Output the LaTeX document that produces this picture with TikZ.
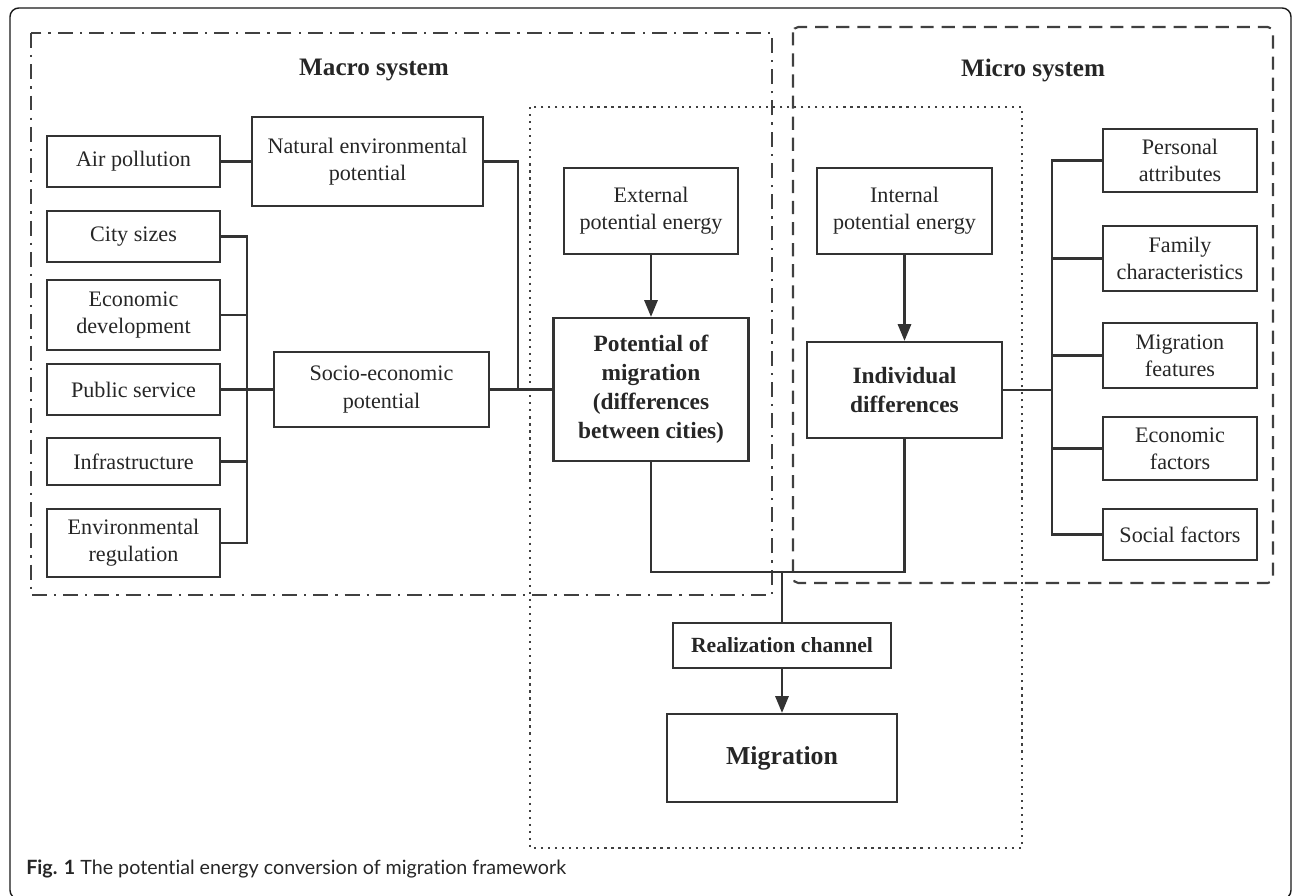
\documentclass[tikz,border=0pt]{standalone}
\usepackage{fontspec}
\setmainfont{Liberation Serif}
\newfontfamily\capfont[Ligatures={NoCommon}]{Lato}
\usetikzlibrary{arrows.meta}

\tikzset{
  box/.style={draw=black!80, line width=1.3pt, inner sep=1pt, align=center,
    text=black!85, font=\fontsize{12.6}{15.4}\selectfont},
  keybox/.style={box, font=\bfseries\fontsize{13.3}{16.6}\selectfont},
  leftbox/.style={box, minimum width=3.46cm},
  rightbox/.style={box, minimum width=3.08cm},
  title/.style={text=black!85, font=\bfseries\fontsize{14.3}{17}\selectfont},
  link/.style={draw=black!80, line width=1.3pt},
  arr/.style={link, -{Triangle[length=9.5pt,width=7.5pt]}},
  macroline/.style={draw=black!75, line width=1.2pt, dash pattern=on 8.5pt off 4pt on 1.3pt off 4pt},
  microline/.style={draw=black!75, line width=1.2pt, dash pattern=on 7.5pt off 4.5pt, rounded corners=3pt},
  chanline/.style={draw=black!75, line width=1.4pt, dash pattern=on 1.3pt off 2.7pt}
}

\begin{document}
\begin{tikzpicture}[x=0.02cm, y=-0.02cm]
\useasboundingbox (0,0) rectangle (1292,896);
\clip (0,0) rectangle (1292,896);

% frame and the three systems
\draw[black!90, line width=0.8pt, rounded corners=5pt] (10,8) rectangle (1291,899);
\draw[macroline] (31,33) rectangle (772,595);
\draw[microline] (793,27) rectangle (1273,583);
\draw[chanline] (530,107) rectangle (1022,848);

\path (374,70) node[title] (macro) {Macro system}
      (1033,70) node[title] (micro) {Micro system};

% macro factors
\path (133.5,161.5) node[leftbox, minimum height=1.02cm] (air) {Air pollution}
      (133.5,236.5) node[leftbox, minimum height=1.02cm] (city) {City sizes}
      (133.5,315) node[leftbox, minimum height=1.4cm] (econ) {Economic\\development}
      (133.5,389.5) node[leftbox, minimum height=1.02cm] (pub) {Public service}
      (133.5,461.5) node[leftbox, minimum height=0.94cm] (infra) {Infrastructure}
      (133.5,543) node[leftbox, minimum height=1.36cm] (envreg) {Environmental\\regulation}
      (367.5,161.5) node[box, minimum width=4.62cm, minimum height=1.78cm] (natenv) {Natural environmental\\potential}
      (381.5,389.5) node[box, minimum width=4.3cm, minimum height=1.5cm] (socio) {Socio-economic\\potential};

% potentials
\path (651,211) node[box, minimum width=3.48cm, minimum height=1.72cm] (ext) {External\\potential energy}
      (651,389.5) node[keybox, minimum width=3.9cm, minimum height=2.86cm] (pot) {Potential of\\migration\\(differences\\between cities)}
      (904.5,211) node[box, minimum width=3.5cm, minimum height=1.72cm] (int) {Internal\\potential energy}
      (904.5,390) node[keybox, minimum width=3.9cm, minimum height=1.92cm] (ind) {Individual\\differences};

% micro factors
\path (1180,160.5) node[rightbox, minimum height=1.26cm] (pers) {Personal\\attributes}
      (1180,258.5) node[rightbox, minimum height=1.3cm] (fam) {Family\\characteristics}
      (1180,355.5) node[rightbox, minimum height=1.3cm] (migf) {Migration\\features}
      (1180,448.5) node[rightbox, minimum height=1.26cm] (ecof) {Economic\\factors}
      (1180,534.5) node[rightbox, minimum height=1.02cm] (soc) {Social factors};

% channel and result
\path (782,645.5) node[box, minimum width=4.36cm, minimum height=0.9cm,
        font=\bfseries\fontsize{12.3}{15}\selectfont] (real) {Realization channel}
      (782,758) node[box, minimum width=4.6cm, minimum height=1.76cm,
        font=\bfseries\fontsize{14.7}{17}\selectfont] (mig) {Migration};

\coordinate (lbus) at (247,400);
\coordinate (njoin) at (518,389.5);
\coordinate (rbus) at (1052,390);
\coordinate (merge) at (782,572);

\draw[link] (air) -- (natenv);
\draw[link] (city.east) -| (envreg.east -| lbus) -- (envreg.east);
\draw[link] (econ.east) -- (econ.east -| lbus);
\draw[link] (infra.east) -- (infra.east -| lbus);
\draw[link] (pub) -- (socio);
\draw[link] (natenv.east) -| (njoin);
\draw[link] (socio) -- (pot);
\draw[arr] (ext) -- (pot);
\draw[arr] (int) -- (ind);

\draw[link] (pers.west) -| (soc.west -| rbus) -- (soc.west);
\draw[link] (fam.west) -- (fam.west -| rbus);
\draw[link] (migf.west) -- (migf.west -| rbus);
\draw[link] (ecof.west) -- (ecof.west -| rbus);
\draw[link] (ind) -- (rbus);

\draw[link] (pot.south) |- (merge) -| (ind.south);
\draw[link] (merge) -- (real);
\draw[arr] (real) -- (mig);

\path (26,869) node[anchor=west, inner sep=0pt, text=black!85,
        font=\capfont\fontsize{11.2}{13}\selectfont] (cap)
      {\textbf{Fig. 1} The potential energy conversion of migration framework};
\end{tikzpicture}
\end{document}
